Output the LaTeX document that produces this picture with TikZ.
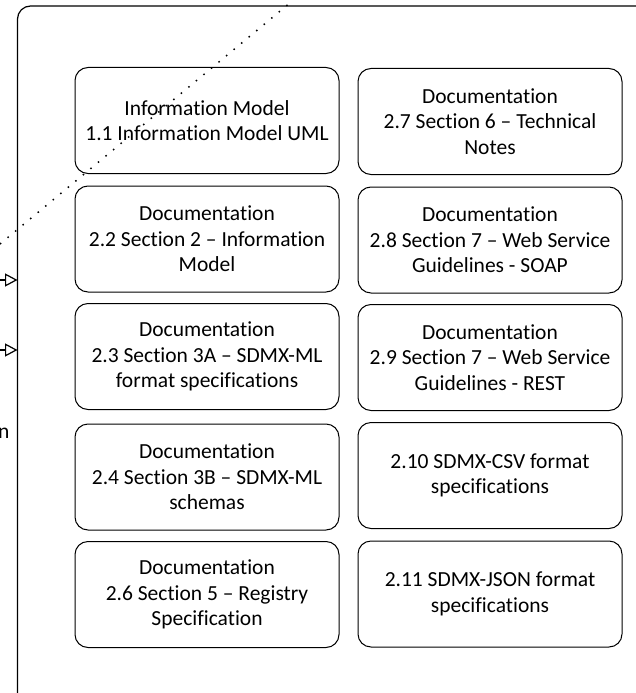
\documentclass[tikz,border=0pt]{standalone}
\usepackage{fontspec}
\setmainfont[Ligatures=NoCommon]{Carlito}
\usetikzlibrary{arrows.meta}
\tikzset{
  docbox/.style={draw, line width=1pt, rounded corners=13pt, minimum width=264pt, minimum height=106pt, inner sep=0pt, align=center, font=\fontsize{21.5}{25.5}\selectfont},
  outerframe/.style={draw, line width=1.2pt, rounded corners=13pt},
  dotline/.style={line width=1.5pt, dash pattern=on 1.5pt off 8.3pt},
  inarrow/.style={line width=1.2pt, -{Triangle[open, length=12.5pt, width=13pt]}}
}
\begin{document}
\begin{tikzpicture}[x=1pt,y=-1pt]
\useasboundingbox (0,0) rectangle (636,693);
\clip (0,0) rectangle (636,693);
\draw[outerframe] (17.5,6) rectangle (680,720);
% boxes left column
\node[docbox] (b11) at (207,120.5) {Information Model\\1.1 Information Model UML};
\node[docbox] (b22) at (207,239) {Documentation\\2.2 Section 2 -- Information\\Model};
\node[docbox] (b23) at (207,356.5) {Documentation\\2.3 Section 3A -- SDMX-ML\\format specifications};
\node[docbox] (b24) at (207,477) {Documentation\\2.4 Section 3B -- SDMX-ML\\schemas};
\node[docbox] (b26) at (207,594.5) {Documentation\\2.6 Section 5 -- Registry\\Specification};
% boxes right column
\node[docbox] (b27) at (490,121.5) {Documentation\\2.7 Section 6 -- Technical\\Notes};
\node[docbox] (b28) at (490,240) {Documentation\\2.8 Section 7 -- Web Service\\Guidelines - SOAP};
\node[docbox] (b29) at (490,357.5) {Documentation\\2.9 Section 7 -- Web Service\\Guidelines - REST};
\node[docbox] (b210) at (490,475.5) {2.10 SDMX-CSV format\\specifications};
\node[docbox] (b211) at (490,594) {2.11 SDMX-JSON format\\specifications};
% dotted line
\coordinate (d1) at (0,244);
\coordinate (d2) at (291,2);
\draw[dotline] (d1) -- (d2);
% incoming arrows
\coordinate (a1s) at (0,280);
\coordinate (a1e) at (17.5,280);
\coordinate (a2s) at (0,350);
\coordinate (a2e) at (17.5,350);
\draw[inarrow] (a1s) -- (a1e);
\draw[inarrow] (a2s) -- (a2e);
% cut-off label
\node[anchor=base east, inner sep=0pt, font=\fontsize{21.5}{25.5}\selectfont] (lbl) at (9.5,438) {n};
\end{tikzpicture}
\end{document}
